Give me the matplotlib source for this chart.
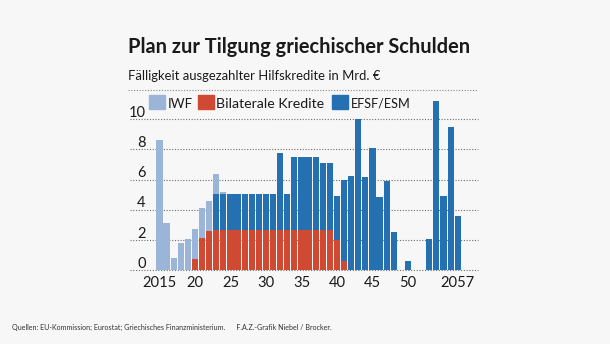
import matplotlib

matplotlib.use('Agg')
import matplotlib.pyplot as plt
from matplotlib.patches import Rectangle
from matplotlib.lines import Line2D

# data (Mrd. Euro per year)
years = list(range(2015, 2058))
iwf = [8.6, 3.15, 0.77, 1.77, 2.08, 1.97, 2.0, 1.97, 1.33, 0.13] + [0] * 33
bilateral = [0, 0, 0, 0, 0, 0.73, 2.12, 2.59] + [2.68] * 17 + [1.99, 0.62] + [0] * 16
efsf = ([0] * 8 + [2.34] * 9 + [5.09, 2.34] + [4.8] * 4 + [4.42, 4.42, 2.92, 5.33,
        6.22, 10.0, 6.2, 8.07, 4.82, 5.9, 2.52, 0, 0.6, 0, 0, 2.04, 11.2, 4.93, 9.51, 3.58])
xticks = [2015, 2020, 2025, 2030, 2035, 2040, 2045, 2050, 2057]
xticklabels = ['2015', '20', '25', '30', '35', '40', '45', '50', '2057']
yticks = [0, 2, 4, 6, 8, 10]

c_iwf = '#9bb5d9'
c_bil = '#d04a33'
c_efsf = '#2570b1'
bg = '#f7f7f7'
dark = '#1a1a1a'

plt.rcParams['font.family'] = ['Lato', 'DejaVu Sans']

fig = plt.figure(figsize=(6.1, 3.44), dpi=100, facecolor=bg)
renderer = fig.canvas.get_renderer()


def fit(t, width_px):
    # shrink/grow the font so the text has the width seen in the reference
    w = t.get_window_extent(renderer).width
    t.set_fontsize(t.get_fontsize() * width_px / w)


# overlay in pixel coordinates for texts and the legend
ov = fig.add_axes([0, 0, 1, 1])
ov.set_xlim(0, 610)
ov.set_ylim(344, 0)
ov.axis('off')
ov.patch.set_visible(False)

t = ov.text(128, 53, 'Plan zur Tilgung griechischer Schulden', fontsize=15, fontweight='bold',
            color=dark, va='baseline', ha='left')
fit(t, 342)
t = ov.text(128, 80, 'Fälligkeit ausgezahlter Hilfskredite in Mrd. €', fontsize=13,
            color=dark, va='baseline', ha='left')
fit(t, 250)
ov.add_line(Line2D([128, 478], [89.5, 89.5], color='#888888', lw=0.8, ls=(0, (1, 1.5))))

legend = [(149, 'IWF', c_iwf, 25), (198, 'Bilaterale Kredite', c_bil, 108),
          (332, 'EFSF/ESM', c_efsf, 60)]
for x0, lab, col, tw in legend:
    ov.add_patch(Rectangle((x0, 94.5), 16, 14, color=col))
    t = ov.text(x0 + 18.5, 108, lab, fontsize=12, color=dark, va='baseline', ha='left')
    fit(t, tw)

t = ov.text(12, 330, 'Quellen: EU-Kommission; Eurostat; Griechisches Finanzministerium.'
            '      F.A.Z.-Grafik Niebel / Brocker.', fontsize=6.3, color='#333333',
            va='baseline', ha='left')
fit(t, 321)

# chart
ax = fig.add_axes([130 / 610, (344 - 271.5) / 344, 348 / 610, 11.5 * 15.07 / 344])
ax.patch.set_visible(False)
ax.set_xlim(2010.85, 2059.86)
ax.set_ylim(-0.1, 11.4)

w = 0.87
bottom2 = [b + e for b, e in zip(bilateral, efsf)]
ax.bar(years, bilateral, width=w, color=c_bil, zorder=3)
ax.bar(years, efsf, width=w, bottom=bilateral, color=c_efsf, zorder=3)
ax.bar(years, iwf, width=w, bottom=bottom2, color=c_iwf, zorder=3)

ylabs = []
for yv in yticks:
    ax.axhline(yv, color='#6f6f6f', lw=0.8, ls=(0, (1, 1.5)), zorder=1, clip_on=False)
    ylabs.append(ax.text(0.045, yv + 0.15, str(yv), transform=ax.get_yaxis_transform(),
                         fontsize=11.5, color=dark, ha='right', va='baseline'))
fit(ylabs[-1], 17)
for t in ylabs[:-1]:
    t.set_fontsize(ylabs[-1].get_fontsize())

ax.set_xticks(xticks)
ax.set_xticklabels(xticklabels, fontsize=12, color=dark)
ax.set_yticks([])
ax.tick_params(axis='x', length=0, pad=3)
for s in ax.spines.values():
    s.set_visible(False)
xl = ax.get_xticklabels()
fit(xl[0], 34)
for t in xl[1:]:
    t.set_fontsize(xl[0].get_fontsize())

fig.savefig('out.png', dpi=100, facecolor=bg)
